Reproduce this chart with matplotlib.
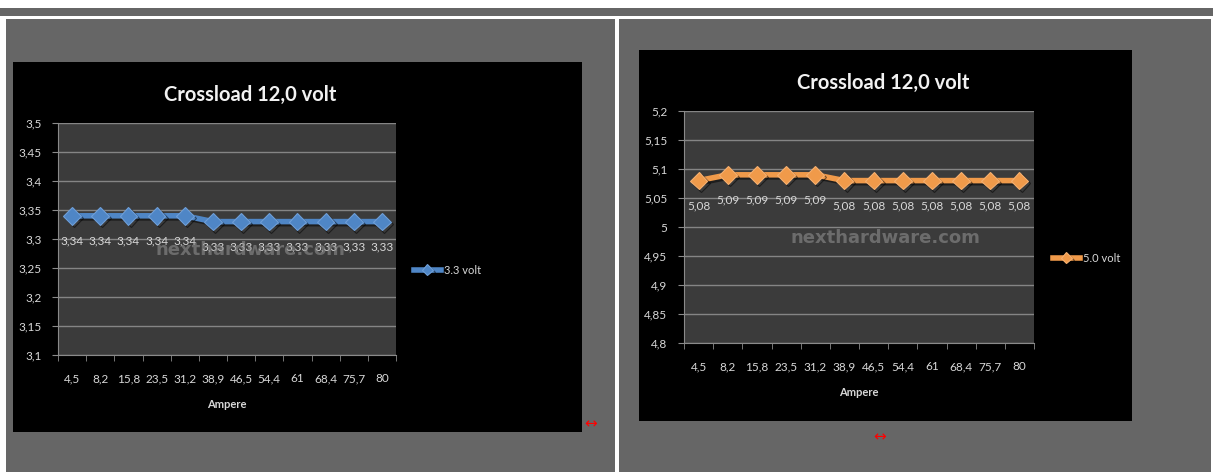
import matplotlib.pyplot as plt
import matplotlib.patheffects as pe
from matplotlib.patches import Rectangle

ampere = ["4,5", "8,2", "15,8", "23,5", "31,2", "38,9", "46,5", "54,4", "61", "68,4", "75,7", "80"]
volt_33 = [3.34, 3.34, 3.34, 3.34, 3.34, 3.33, 3.33, 3.33, 3.33, 3.33, 3.33, 3.33]
volt_50 = [5.08, 5.09, 5.09, 5.09, 5.09, 5.08, 5.08, 5.08, 5.08, 5.08, 5.08, 5.08]
ticks_33 = [3.1, 3.15, 3.2, 3.25, 3.3, 3.35, 3.4, 3.45, 3.5]
ticks_50 = [4.8, 4.85, 4.9, 4.95, 5.0, 5.05, 5.1, 5.15, 5.2]

W, H = 1213, 472
PAGE = "#666666"
TXT = "#d8d8d8"
FONT = "Lato"

fig = plt.figure(figsize=(W / 100, H / 100), dpi=100, facecolor="white")


def box(x0, y0, x1, y1):
    # pixel box, top-left origin -> figure fraction
    return [x0 / W, 1 - y1 / H, (x1 - x0) / W, (y1 - y0) / H]


def rect(x0, y0, x1, y1, color):
    b = box(x0, y0, x1, y1)
    fig.patches.append(Rectangle((b[0], b[1]), b[2], b[3], transform=fig.transFigure,
                                 facecolor=color, edgecolor="none", zorder=-5))


def fmt(v):
    s = f"{v:.2f}".rstrip("0").rstrip(".")
    return s.replace(".", ",")


rect(0, 8, W, 16, PAGE)
rect(6, 19, 615, H, PAGE)
rect(619, 19, W - 2, H, PAGE)


def chart(frame, plot, values, yticks, color, edge, label, legend_xy, mark_xy, wm_xy):
    bg = fig.add_axes(box(*frame))
    bg.set_facecolor("black")
    bg.set_xticks([])
    bg.set_yticks([])
    for s in bg.spines.values():
        s.set_visible(False)

    ax = fig.add_axes(box(*plot))
    ax.set_facecolor("#3b3b3b")
    x = list(range(len(values)))
    line, = ax.plot(x, values, color=color, lw=4, marker="D", ms=9,
                    markerfacecolor=color, markeredgecolor=edge, markeredgewidth=0.8,
                    label=label, zorder=3,
                    path_effects=[pe.SimpleLineShadow(offset=(1.5, -1.5), alpha=0.5),
                                  pe.Normal()])
    for i, v in enumerate(values):
        ax.annotate(fmt(v), (i, v), xytext=(0, -25), textcoords="offset pixels",
                    ha="center", va="center", fontsize=8.5, color=TXT, family=FONT, zorder=4)

    ax.set_ylim(yticks[0], yticks[-1])
    ax.set_yticks(yticks)
    ax.set_yticklabels([fmt(t) for t in yticks])
    ax.set_xlim(-0.5, len(values) - 0.5)
    ax.set_xticks(x)
    ax.set_xticklabels(ampere)
    ax.set_xticks([i - 0.5 for i in range(len(values) + 1)], minor=True)
    ax.tick_params(axis="x", which="major", length=0, pad=13, labelsize=8.5, labelcolor=TXT)
    ax.tick_params(axis="x", which="minor", length=4, color="#8a8a8a", direction="out")
    ax.tick_params(axis="y", length=4, color="#8a8a8a", labelsize=8.5, labelcolor=TXT, pad=8)
    for lab in ax.get_xticklabels() + ax.get_yticklabels():
        lab.set_family(FONT)
    ax.grid(axis="y", color="#858585", lw=1)
    ax.set_axisbelow(True)
    for k in ["top", "right"]:
        ax.spines[k].set_visible(False)
    for k in ["left", "bottom"]:
        ax.spines[k].set_color("#8a8a8a")
    ax.set_xlabel("Ampere", color=TXT, fontsize=8, fontweight="bold", family=FONT, labelpad=11)
    ax.set_title("Crossload 12,0 volt", color="#f2f2f2", fontsize=14.5, fontweight="bold",
                 family=FONT, pad=16, x=0.568)

    ax.text(wm_xy[0] / W, 1 - wm_xy[1] / H, "nexthardware.com", transform=fig.transFigure,
            ha="center", va="center", fontsize=13, fontweight="bold", color="#8e8e8e",
            alpha=0.6, family="DejaVu Sans", zorder=5)

    ax.legend(handles=[line], loc="center left", frameon=False,
              bbox_to_anchor=(legend_xy[0] / W, 1 - legend_xy[1] / H),
              bbox_transform=fig.transFigure, labelcolor=TXT, markerscale=0.6,
              handlelength=2.4, handletextpad=0.3, prop={"family": FONT, "size": 8})

    fig.text(mark_xy[0] / W, 1 - mark_xy[1] / H, "\u2194", color="red", fontsize=11,
             ha="center", va="center", family="DejaVu Sans")


chart((13, 62, 582, 432), (58, 123, 396, 355), volt_33, ticks_33,
      "#4f86c6", "#6f9fd8", "3.3 volt", (404, 270), (591, 424), (250, 250))
chart((639, 50, 1132, 421), (684, 111, 1034, 343), volt_50, ticks_50,
      "#f09a4a", "#f6b070", "5.0 volt", (1043, 258), (880, 437), (885, 238))

fig.savefig("out.png", dpi=100, facecolor="white")
